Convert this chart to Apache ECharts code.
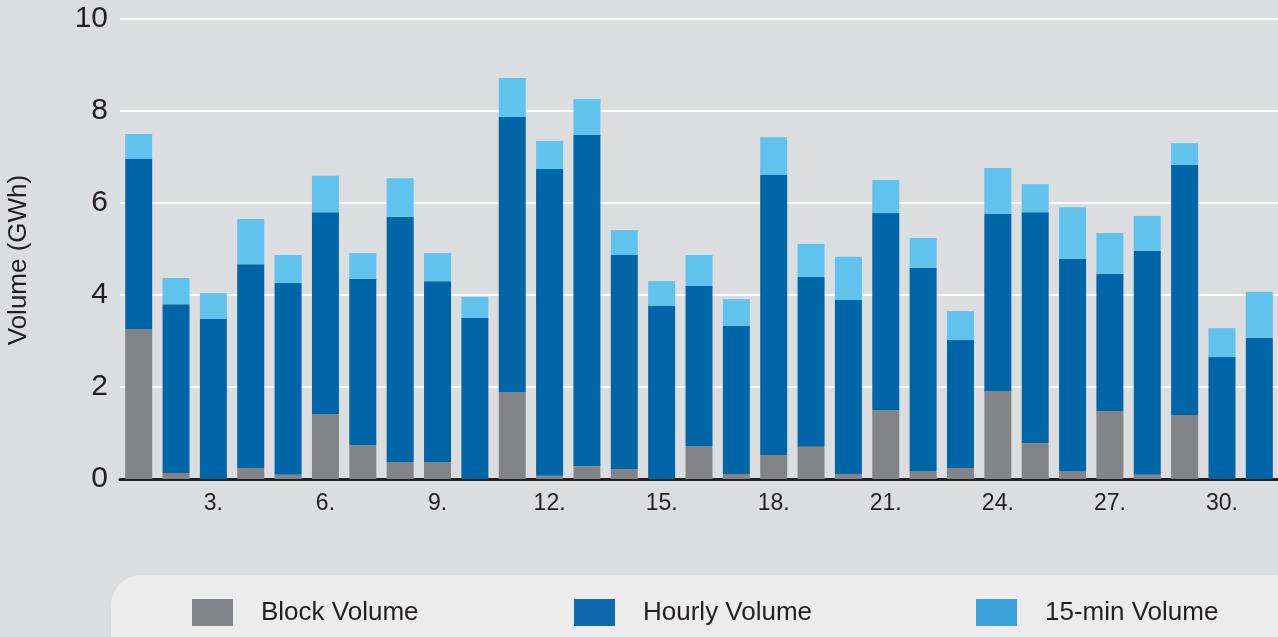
<!DOCTYPE html>
<html>
<head>
<meta charset="utf-8">
<script src="https://cdn.jsdelivr.net/npm/echarts@6/dist/echarts.min.js"></script>
<style>
  html, body { margin: 0; padding: 0; background: #dcdddf; }
  #chart { width: 1278px; height: 637px; }
</style>
</head>
<body>
<div id="chart"></div>
<script>
const days = ['1.', '2.', '3.', '4.', '5.', '6.', '7.', '8.', '9.', '10.',
  '11.', '12.', '13.', '14.', '15.', '16.', '17.', '18.', '19.', '20.',
  '21.', '22.', '23.', '24.', '25.', '26.', '27.', '28.', '29.', '30.', '31.']

// GWh per day
const blockVolume = [3.26, 0.13, 0, 0.24, 0.09, 1.41, 0.74, 0.37, 0.37, 0,
  1.89, 0.07, 0.28, 0.22, 0, 0.72, 0.11, 0.52, 0.70, 0.11,
  1.50, 0.17, 0.24, 1.91, 0.78, 0.17, 1.48, 0.09, 1.39, 0, 0]
const hourlyVolume = [3.70, 3.67, 3.48, 4.43, 4.17, 4.39, 3.61, 5.33, 3.93, 3.50,
  5.98, 6.67, 7.20, 4.65, 3.76, 3.48, 3.22, 6.09, 3.69, 3.78,
  4.28, 4.42, 2.78, 3.85, 5.02, 4.61, 2.98, 4.87, 5.44, 2.65, 3.07]
const quarterVolume = [0.54, 0.57, 0.56, 0.98, 0.61, 0.79, 0.56, 0.84, 0.61, 0.46,
  0.85, 0.61, 0.78, 0.54, 0.54, 0.67, 0.58, 0.82, 0.72, 0.94,
  0.72, 0.65, 0.63, 1.00, 0.61, 1.13, 0.89, 0.76, 0.47, 0.63, 1.00]

const seriesNames = ['Block Volume', 'Hourly Volume', '15-min Volume']
const barColors = ['#838488', '#0066a8', '#5fc3ee']
const legendColors = ['#828387', '#0f6aad', '#3ba1da']
const legendLeft = [192, 574, 976]

const font = '"Liberation Sans", Arial, sans-serif'
const ink = '#231f20'

const chart = echarts.init(document.getElementById('chart'))

function bar(name, data, color) {
  return {
    name,
    type: 'bar',
    stack: 'total',
    data,
    barWidth: 27,
    itemStyle: { color },
    emphasis: { disabled: true }
  }
}

chart.setOption({
  animation: false,
  backgroundColor: '#dcdddf',
  textStyle: { fontFamily: font },
  grid: { left: 120, right: 0, top: 19, bottom: 158, outerBoundsMode: 'none' },
  graphic: [{
    type: 'rect',
    z: 0,
    shape: { x: 111, y: 575, width: 1210, height: 110, r: 30 },
    style: { fill: '#ececec' }
  }],
  legend: seriesNames.map((name, i) => ({
    left: legendLeft[i],
    top: 599,
    padding: 0,
    icon: 'rect',
    itemWidth: 41,
    itemHeight: 27,
    selectedMode: false,
    data: [{ name, itemStyle: { color: legendColors[i] } }],
    textStyle: { color: ink, fontSize: 26, fontFamily: font, padding: [0, 0, 0, 23] }
  })),
  xAxis: {
    type: 'category',
    data: days,
    axisLine: { show: true, lineStyle: { color: ink, width: 3 } },
    axisTick: { show: false },
    axisLabel: {
      interval: (i) => (i + 1) % 3 === 0,
      color: ink,
      fontSize: 23,
      margin: 13
    },
    splitLine: { show: false }
  },
  yAxis: {
    type: 'value',
    min: 0,
    max: 10,
    interval: 2,
    name: 'Volume (GWh)',
    nameLocation: 'middle',
    nameRotate: 90,
    nameGap: 88,
    nameMoveOverlap: false,
    nameTextStyle: { color: ink, fontSize: 26, padding: [0, 22, 0, 0] },
    axisLine: { show: false },
    axisTick: { show: false },
    axisLabel: { color: ink, fontSize: 30, margin: 12 },
    splitLine: { lineStyle: { color: '#ffffff', width: 2 } }
  },
  series: [
    bar(seriesNames[0], blockVolume, barColors[0]),
    bar(seriesNames[1], hourlyVolume, barColors[1]),
    bar(seriesNames[2], quarterVolume, barColors[2])
  ]
})
</script>
</body>
</html>
